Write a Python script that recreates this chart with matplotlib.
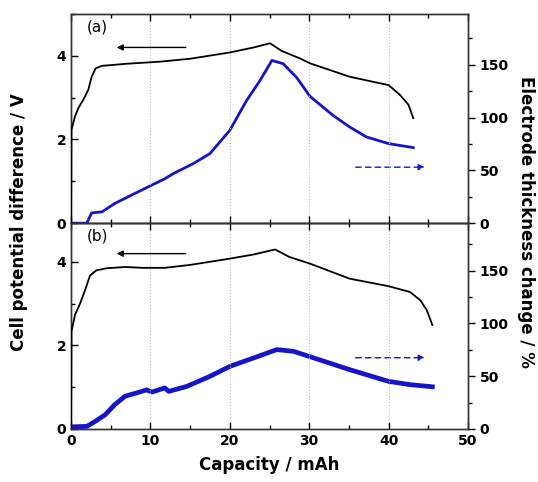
import matplotlib.pyplot as plt
import numpy as np
from matplotlib.ticker import MultipleLocator

# (a) cell potential (V) and electrode thickness change (%) vs capacity (mAh)
cap_a_v = [0, 0.05, 0.5, 0.92, 1.55, 2.18, 2.6, 3.1, 3.9, 7, 11.2, 15, 20, 23, 25.06,
           26.5, 28.8, 30.1, 35.1, 38, 40, 41.4, 42.5, 43.1]
volt_a = [0, 2.23, 2.55, 2.75, 2.95, 3.19, 3.5, 3.7, 3.76, 3.81, 3.86, 3.93, 4.08, 4.2, 4.30,
          4.12, 3.94, 3.82, 3.5, 3.38, 3.3, 3.07, 2.83, 2.51]
cap_a_t = [0, 2.0, 2.3, 2.6, 3.9, 5.5, 7.6, 9.7, 11.8, 12.9, 15.4, 17.5, 20, 22.1, 23.8,
           25.3, 26.7, 28.4, 30.1, 33, 35.1, 37.2, 40, 43.1]
thick_a = [0, 0, 5, 9.7, 10.7, 18.6, 26.5, 34.3, 42, 47, 56.4, 65.9, 87.9, 116, 135,
           154, 151, 138, 120, 102, 91, 81.6, 75.3, 71.5]

# (b)
cap_b_v = [0, 0.05, 0.5, 1.13, 1.76, 2.4, 3.2, 4.5, 6.8, 9, 11.8, 15, 20, 23, 25.7,
           27.5, 30.1, 35.1, 40, 42.7, 44.0, 44.8, 45.5]
volt_b = [0, 2.33, 2.73, 3.0, 3.32, 3.68, 3.8, 3.85, 3.88, 3.86, 3.86, 3.93, 4.08, 4.18, 4.30,
          4.12, 3.96, 3.6, 3.42, 3.28, 3.08, 2.85, 2.49]
cap_b_t = [0, 2.0, 3.0, 4.3, 5.5, 6.8, 8.9, 9.5, 10.2, 11.8, 12.3, 14.6, 17.5, 20, 23,
           25.9, 28, 30.1, 35.1, 40, 42.7, 45.5]
thick_b = [2, 2.5, 7, 13.5, 23, 31, 35.6, 37, 35, 38.9, 35.6, 40.4, 49.9, 59.3, 67.3,
           75.2, 73.6, 68.5, 56.2, 45.1, 42, 40]

blue = "#1414c8"

fig = plt.figure(figsize=(5.38, 4.82), dpi=100)
ax_a = fig.add_axes([0.132, 0.537, 0.738, 0.434])
ax_b = fig.add_axes([0.132, 0.110, 0.738, 0.427], sharex=ax_a)

panels = [
    (ax_a, cap_a_v, volt_a, cap_a_t, thick_a, "(a)", 5.0, 198, 53, 2.0),
    (ax_b, cap_b_v, volt_b, cap_b_t, thick_b, "(b)", 4.93, 195, 67.5, 3.4),
]

for ax, cv, v, ct, t, tag, vmax, tmax, arr_y, blw in panels:
    ax2 = ax.twinx()
    ax2.plot(ct, t, color=blue, lw=blw, zorder=3)
    ax.plot(cv, v, color="black", lw=1.3, zorder=4)
    ax.set_zorder(ax2.get_zorder() + 1)
    ax.patch.set_visible(False)

    ax.set_xlim(0, 50)
    ax.set_ylim(0, vmax)
    ax2.set_ylim(0, tmax)
    ax.xaxis.set_major_locator(MultipleLocator(10))
    ax.xaxis.set_minor_locator(MultipleLocator(5))
    ax.yaxis.set_major_locator(MultipleLocator(2))
    ax.yaxis.set_minor_locator(MultipleLocator(1))
    ax2.yaxis.set_major_locator(MultipleLocator(50))
    ax2.yaxis.set_minor_locator(MultipleLocator(25))
    ax.grid(axis="x", which="major", color="#bbbbbb", ls=":", lw=0.8)

    ax.tick_params(which="both", direction="in", top=True, labelsize=10, width=1.0)
    ax.tick_params(which="major", length=5)
    ax.tick_params(which="minor", length=3)
    ax2.tick_params(which="both", direction="out", labelsize=10, width=1.0)
    ax2.tick_params(which="major", length=5)
    ax2.tick_params(which="minor", length=3)
    for a in (ax, ax2):
        for lab in a.get_xticklabels() + a.get_yticklabels():
            lab.set_fontweight("bold")
        for s in a.spines.values():
            s.set_linewidth(1.0)
            s.set_color("#333333")

    ax.text(2.0, vmax * 0.915, tag, fontsize=11)
    ax.annotate("", xy=(5.4, 4.2), xytext=(14.8, 4.2),
                arrowprops=dict(arrowstyle="-|>", color="black", lw=1.0,
                                mutation_scale=9))
    ax2.annotate("", xy=(44.9, arr_y), xytext=(35.5, arr_y),
                 arrowprops=dict(arrowstyle="-|>", color=blue, lw=1.0,
                                 ls=(0, (4, 3)), mutation_scale=9))

plt.setp(ax_a.get_xticklabels(), visible=False)
for lab in ax_b.get_xticklabels():
    lab.set_fontweight("bold")

fig.text(0.035, 0.54, "Cell potential difference / V", rotation=90,
         ha="center", va="center", fontsize=12, fontweight="bold")
fig.text(0.978, 0.54, "Electrode thickness change / %", rotation=-90,
         ha="center", va="center", fontsize=12, fontweight="bold")
fig.text(0.50, 0.035, "Capacity / mAh", ha="center", va="center",
         fontsize=12, fontweight="bold")

plt.savefig("out.png", dpi=100)
